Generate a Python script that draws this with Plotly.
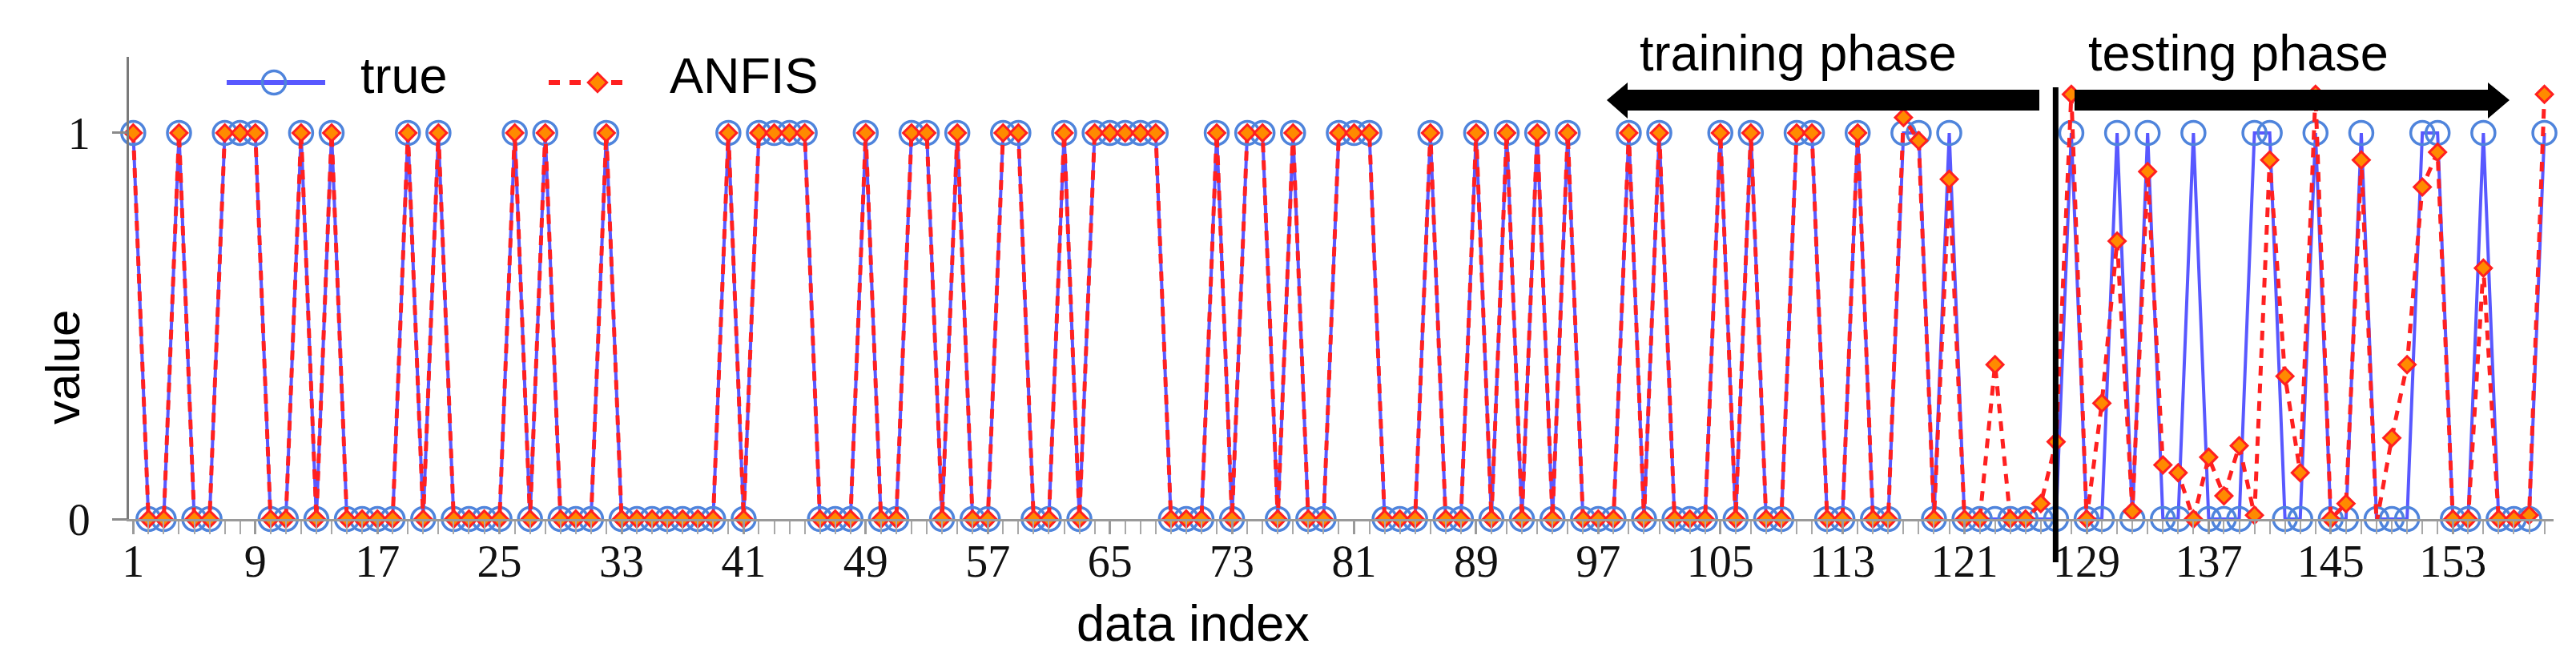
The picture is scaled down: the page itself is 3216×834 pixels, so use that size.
import plotly.graph_objects as go

# ---------------- data ----------------
data_index = list(range(1, 160))

true_values = [
    1, 0, 0, 1, 0, 0, 1, 1, 1, 0,
    0, 1, 0, 1, 0, 0, 0, 0, 1, 0,
    1, 0, 0, 0, 0, 1, 0, 1, 0, 0,
    0, 1, 0, 0, 0, 0, 0, 0, 0, 1,
    0, 1, 1, 1, 1, 0, 0, 0, 1, 0,
    0, 1, 1, 0, 1, 0, 0, 1, 1, 0,
    0, 1, 0, 1, 1, 1, 1, 1, 0, 0,
    0, 1, 0, 1, 1, 0, 1, 0, 0, 1,
    1, 1, 0, 0, 0, 1, 0, 0, 1, 0,
    1, 0, 1, 0, 1, 0, 0, 0, 1, 0,
    1, 0, 0, 0, 1, 0, 1, 0, 0, 1,
    1, 0, 0, 1, 0, 0, 1, 1, 0, 1,
    0, 0, 0, 0, 0, 0, 0, 1, 0, 0,
    1, 0, 1, 0, 0, 1, 0, 0, 0, 1,
    1, 0, 0, 1, 0, 0, 1, 0, 0, 0,
    1, 1, 0, 0, 1, 0, 0, 0, 1,
]

anfis_values = [
    1, 0, 0, 1, 0, 0, 1, 1, 1, 0,
    0, 1, 0, 1, 0, 0, 0, 0, 1, 0,
    1, 0, 0, 0, 0, 1, 0, 1, 0, 0,
    0, 1, 0, 0, 0, 0, 0, 0, 0, 1,
    0, 1, 1, 1, 1, 0, 0, 0, 1, 0,
    0, 1, 1, 0, 1, 0, 0, 1, 1, 0,
    0, 1, 0, 1, 1, 1, 1, 1, 0, 0,
    0, 1, 0, 1, 1, 0, 1, 0, 0, 1,
    1, 1, 0, 0, 0, 1, 0, 0, 1, 0,
    1, 0, 1, 0, 1, 0, 0, 0, 1, 0,
    1, 0, 0, 0, 1, 0, 1, 0, 0, 1,
    1, 0, 0, 1, 0, 0, 1.04, 0.98, 0.0, 0.88,
    0.0, 0.0, 0.40, 0.0, 0.0, 0.04, 0.20, 1.10, 0.0, 0.30,
    0.72, 0.02, 0.90, 0.14, 0.12, 0.0, 0.16, 0.06, 0.19, 0.01,
    0.93, 0.37, 0.12, 1.10, 0.0, 0.04, 0.93, -0.01, 0.21, 0.40,
    0.86, 0.95, 0.0, 0.0, 0.65, 0.0, 0.0, 0.01, 1.10,
]

x_tick_values = [1, 9, 17, 25, 33, 41, 49, 57, 65, 73, 81, 89, 97, 105, 113, 121, 129, 137, 145, 153]
x_tick_labels = ["1", "9", "17", "25", "33", "41", "49", "57", "65", "73",
                 "81", "89", "97", "105", "113", "121", "129", "137", "145", "153"]
y_tick_values = [0, 1]
y_tick_labels = ["0", "1"]

series_names = ["true", "ANFIS"]
phase_labels = ["training phase", "testing phase"]
split_position = 126.97   # boundary between training and testing data

# ---------------- layout geometry (pixels) ----------------
W, H = 3216, 834
PL, PR, PT, PB = 153, 3180, 63, 640
X_RANGE = [0.72, 159.6]
Y_RANGE = [0.0, 1.197]


def px(x):
    return (x - PL) / (PR - PL)


def py(y):
    return (PB - y) / (PB - PT)


def data_to_paper_x(v):
    return (v - X_RANGE[0]) / (X_RANGE[1] - X_RANGE[0])


BLUE_LINE = "rgba(70,70,255,0.9)"
BLUE_MARK = "#4f84dc"
RED = "#ff2020"
RED_FILL = "#ff8a00"

fig = go.Figure()

fig.add_trace(go.Scatter(
    x=data_index, y=true_values, name=series_names[0],
    mode="lines+markers",
    line=dict(color=BLUE_LINE, width=4),
    marker=dict(symbol="circle-open", size=29, color=BLUE_MARK, line=dict(width=3.5, color=BLUE_MARK)),
    cliponaxis=False, showlegend=False,
))
fig.add_trace(go.Scatter(
    x=data_index, y=anfis_values, name=series_names[1],
    mode="lines+markers",
    line=dict(color=RED, width=5, dash="12px,10px"),
    marker=dict(symbol="diamond", size=16, color=RED_FILL, line=dict(width=3, color=RED)),
    cliponaxis=False, showlegend=False,
))

# ---------------- hand-drawn legend (pixel overlay axes) ----------------
leg_y = 95
fig.add_trace(go.Scatter(x=[275, 398], y=[leg_y, leg_y], mode="lines",
                         line=dict(color=BLUE_LINE, width=6),
                         xaxis="x2", yaxis="y2", showlegend=False, hoverinfo="skip", cliponaxis=False))
fig.add_trace(go.Scatter(x=[334], y=[leg_y], mode="markers",
                         marker=dict(symbol="circle-open", size=29, color=BLUE_MARK, line=dict(width=3.5, color=BLUE_MARK)),
                         xaxis="x2", yaxis="y2", showlegend=False, hoverinfo="skip", cliponaxis=False))
fig.add_trace(go.Scatter(x=[677, 780], y=[leg_y, leg_y], mode="lines",
                         line=dict(color=RED, width=6, dash="14px,12px"),
                         xaxis="x2", yaxis="y2", showlegend=False, hoverinfo="skip", cliponaxis=False))
fig.add_trace(go.Scatter(x=[738], y=[leg_y], mode="markers",
                         marker=dict(symbol="diamond", size=18, color=RED_FILL, line=dict(width=3, color=RED)),
                         xaxis="x2", yaxis="y2", showlegend=False, hoverinfo="skip", cliponaxis=False))

annotations = [
    dict(text=series_names[0], x=px(440), y=py(86), xref="paper", yref="paper",
         xanchor="left", yanchor="middle", showarrow=False,
         font=dict(family="Liberation Sans", size=63, color="black")),
    dict(text=series_names[1], x=px(826), y=py(86), xref="paper", yref="paper",
         xanchor="left", yanchor="middle", showarrow=False,
         font=dict(family="Liberation Sans", size=63, color="black")),
    dict(text=phase_labels[0], x=px(2237), y=py(58), xref="paper", yref="paper",
         xanchor="center", yanchor="middle", showarrow=False,
         font=dict(family="Liberation Sans", size=63, color="black")),
    dict(text=phase_labels[1], x=px(2786), y=py(58), xref="paper", yref="paper",
         xanchor="center", yanchor="middle", showarrow=False,
         font=dict(family="Liberation Sans", size=63, color="black")),
    dict(text="data index", x=px(1481), y=py(770), xref="paper", yref="paper",
         xanchor="center", yanchor="middle", showarrow=False,
         font=dict(family="Liberation Sans", size=63, color="black")),
    dict(text="value", x=px(70), y=py(451), xref="paper", yref="paper",
         xanchor="center", yanchor="middle", showarrow=False, textangle=-90,
         font=dict(family="Liberation Sans", size=60, color="black")),
]


def poly(points):
    return "M " + " L ".join(f"{px(a):.5f},{py(b):.5f}" for a, b in points) + " Z"


train_arrow = [(1998, 117), (2024, 95), (2024, 104), (2538, 104), (2538, 130), (2024, 130), (2024, 140)]
test_arrow = [(2582, 104), (3098, 104), (3098, 95), (3125, 117), (3098, 140), (3098, 130), (2582, 130)]

split_x = data_to_paper_x(split_position)
shapes = [
    dict(type="path", path=poly(train_arrow), xref="paper", yref="paper",
         fillcolor="black", line=dict(width=0), layer="above"),
    dict(type="path", path=poly(test_arrow), xref="paper", yref="paper",
         fillcolor="black", line=dict(width=0), layer="above"),
    dict(type="line", x0=split_x, x1=split_x, y0=py(101), y1=py(694),
         xref="paper", yref="paper", line=dict(color="black", width=7), layer="above"),
]

fig.update_layout(
    width=W, height=H,
    margin=dict(l=PL, r=W - PR, t=PT, b=H - PB, pad=0),
    paper_bgcolor="white", plot_bgcolor="white",
    showlegend=False,
    annotations=annotations,
    shapes=shapes,
    xaxis=dict(
        range=X_RANGE, tickmode="array", tickvals=x_tick_values, ticktext=x_tick_labels,
        ticks="outside", ticklen=16, tickwidth=2.5, tickcolor="#9a9a9a",
        showline=True, linecolor="#9a9a9a", linewidth=3,
        showgrid=False, zeroline=False,
        tickfont=dict(family="Liberation Serif", size=56, color="#111"),
        ticklabelstandoff=-14,
        minor=dict(dtick=1, tick0=1, ticks="outside", ticklen=16, tickwidth=2,
                   tickcolor="#a8a8a8", showgrid=False),
    ),
    yaxis=dict(
        range=Y_RANGE, tickmode="array", tickvals=y_tick_values, ticktext=y_tick_labels,
        ticks="outside", ticklen=18, tickwidth=2.5, tickcolor="#8a8a8a",
        showline=True, linecolor="#7a7a7a", linewidth=3,
        showgrid=False, zeroline=False,
        tickfont=dict(family="Liberation Serif", size=56, color="#111"),
        ticklabelstandoff=16,
    ),
    xaxis2=dict(overlaying="x", range=[PL, PR], visible=False, showgrid=False, zeroline=False),
    yaxis2=dict(overlaying="y", range=[PB, PT], visible=False, showgrid=False, zeroline=False),
)

fig.write_html("out.html")
